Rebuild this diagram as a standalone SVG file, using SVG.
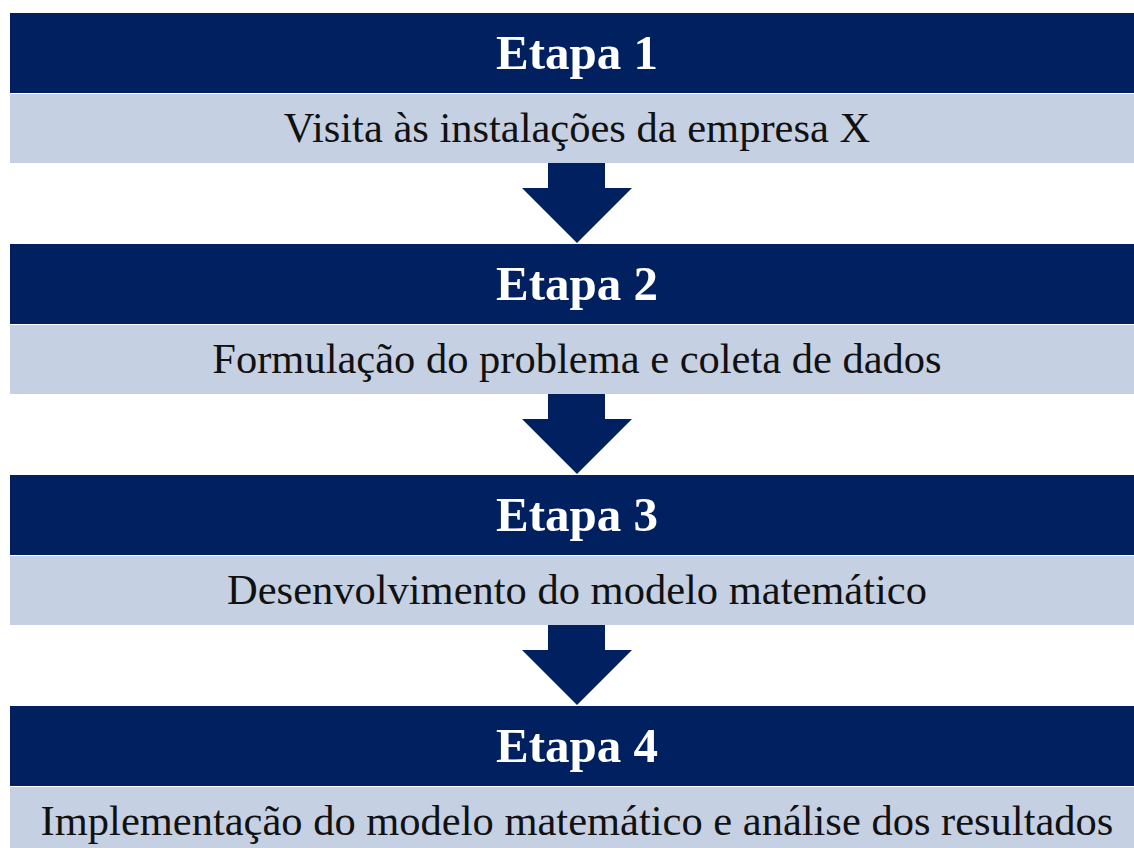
<svg xmlns="http://www.w3.org/2000/svg" width="1134" height="848" viewBox="0 0 1134 848">
<style>
.hd{fill:#002060}
.lt{fill:#c5d0e3}
.ar{fill:#002060}
.ht{font-family:"Liberation Serif","Times New Roman",serif;font-weight:bold;font-size:49px;fill:#ffffff;text-anchor:middle}
.bt{font-family:"Liberation Serif","Times New Roman",serif;font-size:42.5px;fill:#111111;text-anchor:middle}
</style>
<rect width="1134" height="848" fill="#ffffff"/>
<g id="etapa1">
<rect class="hd" x="10" y="13" width="1124" height="80"/>
<rect class="lt" x="10" y="94" width="1124" height="69"/>
<text class="ht" x="577" y="69">Etapa 1</text>
<text class="bt" x="577" y="142">Visita às instalações da empresa X</text>
</g>
<g id="etapa2">
<rect class="hd" x="10" y="244" width="1124" height="80"/>
<rect class="lt" x="10" y="325" width="1124" height="69"/>
<text class="ht" x="577" y="300">Etapa 2</text>
<text class="bt" x="577" y="373">Formulação do problema e coleta de dados</text>
</g>
<g id="etapa3">
<rect class="hd" x="10" y="475" width="1124" height="80"/>
<rect class="lt" x="10" y="556" width="1124" height="69"/>
<text class="ht" x="577" y="531">Etapa 3</text>
<text class="bt" x="577" y="604">Desenvolvimento do modelo matemático</text>
</g>
<g id="etapa4">
<rect class="hd" x="10" y="706" width="1124" height="80"/>
<rect class="lt" x="10" y="787" width="1124" height="69"/>
<text class="ht" x="577" y="762">Etapa 4</text>
<text class="bt" x="577" y="835">Implementação do modelo matemático e análise dos resultados</text>
</g>
<g id="connectors">
<polygon class="ar" points="548,163 605,163 605,188 632,188 577,243 522,188 548,188"/>
<polygon class="ar" points="548,394 605,394 605,419 632,419 577,474 522,419 548,419"/>
<polygon class="ar" points="548,625 605,625 605,650 632,650 577,705 522,650 548,650"/>
</g>
</svg>
